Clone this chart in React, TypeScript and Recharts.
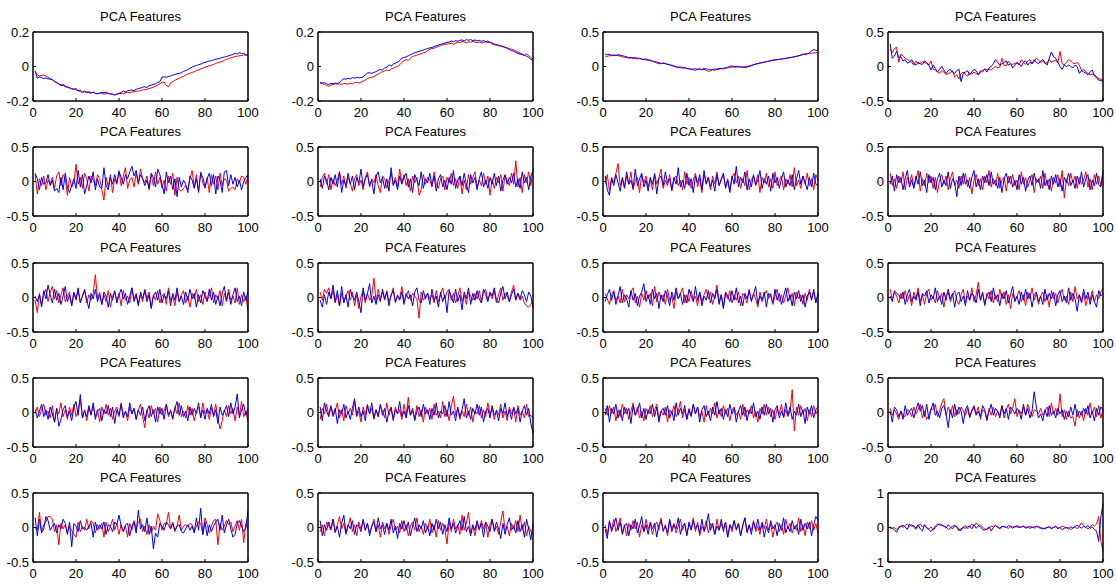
import { LineChart, Line, XAxis, YAxis } from 'recharts'

const TITLE = 'PCA Features'
const xTicks = [0, 20, 40, 60, 80, 100]
const ticksSmall = [-0.2, 0, 0.2]
const ticksHalf = [-0.5, 0, 0.5]
const ticksOne = [-1, 0, 1]

// panels 1-3 are in thousandths, the rest in hundredths
const f1Red = [
  -30, -48, -55, -52, -50, -55, -62, -70, -78, -88,
  -92, -100, -106, -104, -112, -118, -122, -128, -130, -136,
  -140, -146, -150, -142, -148, -146, -152, -150, -155, -158,
  -154, -156, -160, -158, -156, -160, -162, -165, -160, -158,
  -156, -158, -152, -150, -152, -148, -146, -144, -142, -140,
  -136, -134, -132, -128, -124, -120, -114, -108, -100, -92,
  -90, -110, -118, -96, -88, -80, -74, -68, -62, -56,
  -50, -44, -40, -34, -30, -24, -20, -14, -10, -4,
  0, 4, 8, 12, 18, 22, 26, 30, 36, 42,
  46, 50, 54, 58, 60, 62, 64, 66, 68, 66,
]
const f1Blue = [
  -25, -68, -60, -65, -70, -66, -72, -74, -76, -86,
  -95, -100, -112, -108, -118, -120, -125, -130, -132, -128,
  -140, -136, -150, -146, -152, -150, -155, -148, -156, -158,
  -155, -150, -152, -148, -156, -158, -160, -165, -160, -155,
  -150, -142, -148, -140, -138, -136, -140, -132, -128, -125,
  -120, -118, -122, -110, -108, -104, -100, -92, -88, -62,
  -60, -62, -58, -55, -50, -46, -42, -40, -36, -28,
  -24, -18, -10, -4, 2, 6, 10, 14, 20, 24,
  28, 32, 34, 38, 42, 45, 48, 52, 55, 58,
  62, 66, 70, 78, 72, 82, 74, 78, 64, 70,
]
const f2Red = [
  -100, -98, -104, -110, -115, -108, -104, -100, -102, -100,
  -104, -98, -100, -102, -96, -100, -94, -92, -96, -90,
  -84, -78, -70, -64, -62, -58, -50, -44, -36, -30,
  -26, -20, -24, -14, -10, -4, 0, 10, 24, 34,
  40, 36, 48, 58, 62, 66, 70, 74, 80, 82,
  92, 100, 104, 106, 112, 116, 122, 126, 128, 130,
  132, 134, 128, 136, 140, 138, 146, 142, 136, 144,
  140, 146, 142, 138, 142, 136, 140, 144, 138, 140,
  132, 126, 122, 120, 118, 114, 112, 108, 104, 100,
  96, 90, 84, 78, 72, 66, 74, 62, 52, 42,
]
const f2Blue = [
  -92, -96, -94, -100, -104, -98, -100, -96, -98, -94,
  -80, -70, -74, -68, -72, -64, -68, -62, -66, -64,
  -60, -48, -38, -36, -40, -34, -30, -22, -18, -20,
  -8, -4, 10, 2, 14, 20, 24, 34, 48, 52,
  56, 62, 68, 74, 80, 84, 88, 92, 96, 100,
  104, 108, 110, 116, 120, 124, 128, 132, 136, 140,
  142, 148, 144, 150, 146, 152, 154, 148, 156, 152,
  156, 150, 154, 148, 152, 146, 150, 144, 148, 140,
  136, 130, 128, 124, 120, 116, 112, 104, 98, 92,
  88, 82, 76, 72, 68, 64, 60, 52, 42, 32,
]
const f3Red = [
  150, 145, 160, 155, 162, 165, 158, 150, 140, 132,
  128, 122, 125, 118, 114, 110, 118, 104, 100, 96,
  90, 84, 74, 64, 50, 42, 40, 52, 44, 34,
  28, 20, 10, -10, -16, -4, -20, -24, -28, -32,
  -40, -34, -30, -44, -38, -48, -40, -56, -70, -62,
  -48, -56, -44, -40, -32, -36, -28, -20, -14, -10,
  -6, -14, -2, -12, -8, -2, 4, 10, 18, 28,
  36, 44, 52, 58, 64, 70, 76, 82, 90, 96,
  100, 104, 108, 112, 116, 122, 128, 134, 140, 148,
  156, 162, 170, 176, 182, 188, 192, 196, 202, 200,
]
const f3Blue = [
  182, 170, 178, 162, 168, 156, 172, 164, 158, 148,
  140, 130, 132, 124, 128, 120, 118, 108, 104, 110,
  96, 92, 80, 72, 66, 56, 44, 46, 40, 30,
  24, 10, 6, -4, -8, -16, -20, -14, -28, -32,
  -40, -48, -54, -40, -36, -44, -30, -34, -42, -50,
  -44, -38, -36, -30, -28, -26, -18, -10, 4, 8,
  0, 4, -4, -2, -10, -14, -8, 0, 10, 24,
  34, 40, 50, 54, 62, 70, 78, 84, 92, 96,
  100, 102, 110, 114, 118, 124, 130, 134, 142, 148,
  156, 166, 178, 180, 186, 196, 230, 246, 236, 226,
]
const f4Red = [
  25, 20, 26, 28, 6, 18, 15, 12, 10, 8,
  6, 2, 8, 4, 5, 7, 6, 4, 2, 8,
  -4, -5, -8, -10, -6, -8, -12, -10, -9, -6,
  -15, -12, -18, -10, -8, -12, -14, -9, -11, -8,
  -10, -12, -6, -8, -3, -5, -4, -5, -2, 0,
  -2, -1, 12, 2, 1, 8, 4, 3, 5, 5,
  2, 10, 6, 3, 8, 10, 4, 7, 12, 9,
  6, 8, 4, 6, 10, 6, 8, 9, 5, 22,
  4, 2, 6, 10, 8, 5, 4, 6, 2, -6,
  -4, -8, -10, -12, -11, -12, -14, -18, -18, -20,
]
const f4Blue = [
  33, 12, 15, 22, 13, 14, 8, 10, 5, 6,
  10, 4, 2, 6, 4, 3, 8, 6, 2, -5,
  2, -3, -8, -4, 0, -5, -10, -6, -4, -8,
  -10, -6, -4, -22, -10, -8, -6, -12, -8, -4,
  -6, -12, -8, -6, -4, -8, -2, 0, 4, 10,
  6, 2, 4, 6, 8, 2, 4, -2, 2, 6,
  4, 0, 6, 8, 2, 6, 4, 10, 6, 4,
  8, 10, 6, 2, 12, 21, 14, 12, 6, 0,
  -4, 2, 0, 2, 0, -2, 2, 0, -10, -6,
  -8, -10, -12, -8, -5, -14, -16, -20, -20, -22,
]
const f5Red = [
  10, -18, 4, -6, 8, -12, 2, -4, 6, -10,
  8, 14, -6, 10, 4, -20, 6, -8, -2, 25,
  -4, 6, -10, 12, 4, -14, 8, 2, -6, 10,
  4, -12, -27, 6, -8, 10, -16, 4, -4, 16,
  -6, 8, 20, -10, 2, 6, -8, 12, -4, 18,
  4, -2, 8, -12, 10, -6, 14, -4, 6, -10,
  2, -14, 8, -4, 12, -20, 6, -12, -14, -10,
  -6, -12, 4, 16, -8, 10, -16, 14, -2, -10,
  6, -16, 10, -4, 8, -12, 12, -6, 4, 2,
  -14, -10, -8, -12, 4, -2, 8, 6, -4, 8,
]
const f5Blue = [
  12, 4, -12, 6, -4, -2, 10, -6, 2, -14,
  -10, -16, 6, -12, 12, -8, -16, -6, 4, -10,
  16, -8, 10, -18, -6, 8, -2, 14, -12, 4,
  -8, -10, 20, -6, -12, 6, -4, 10, -2, 14,
  6, -4, 10, 4, 14, 22, 8, 16, -2, 10,
  4, -6, 2, -10, 12, 6, -8, 18, 10, -4,
  -18, 14, -2, 8, -12, 4, -22, 6, -8, 2,
  -4, -16, 8, 2, -10, 4, -14, 12, 6, -8,
  4, 12, -6, 10, -18, 8, 2, -16, 14, 16,
  -6, 10, -4, 6, -8, 2, -12, 0, 6, 10,
]
const f6Red = [
  -8, 6, 12, -4, 10, -12, 4, -6, 2, 14,
  -4, 8, -10, 6, -2, -14, 4, 10, -6, 2,
  -12, 6, 14, -8, 4, -2, 10, -6, -16, 8,
  4, -10, 2, 12, -4, 6, -8, 18, -2, 10,
  -6, 4, -14, 8, -2, 6, -20, -12, 10, -4,
  6, 2, -8, 14, -4, -10, 4, 8, -12, 6,
  -2, 12, -6, 4, -10, 8, -18, 2, -12, 10,
  -4, 6, 14, -8, 2, -6, 12, -4, 8, -20,
  4, -10, 6, -2, 10, -14, 8, 2, -6, 12,
  -4, 30, -8, 6, -16, 10, -2, 14, -6, 18,
]
const f6Blue = [
  4, -10, 8, 2, -12, 6, -4, 10, -8, 14,
  -16, 2, -6, 12, -4, 8, -12, 6, -2, 18,
  -8, 4, 10, -6, 2, -18, 8, 14, -2, 6,
  -10, 4, -14, 20, -6, 2, -12, 8, -4, 6,
  12, -8, 4, -16, 10, 2, -6, 14, -10, 4,
  -2, 12, -6, 8, -14, 4, 10, -8, 2, -12,
  6, -4, 16, -10, 2, 8, -6, 12, -4, -16,
  10, -2, 6, -12, 4, 14, -8, 2, -10, 6,
  -4, 12, -6, 8, -14, 2, 10, -4, 6, -2,
  12, -8, 4, -10, 14, -2, 6, -12, 8, 16,
]
const f7Red = [
  -4, 10, -14, 6, -2, 12, 26, -6, 4, -10,
  8, -4, 14, -12, 2, 6, -16, 10, -2, 8,
  -8, 4, -12, 12, -4, 6, 18, -10, 2, -6,
  10, -14, 4, 8, -6, 2, -12, 14, -4, 6,
  -10, 2, 12, -8, 4, -16, 10, -2, 6, -12,
  8, -4, 14, -6, 2, 10, -8, 4, -14, 6,
  12, -2, 8, -10, 4, -6, 16, -12, 2, 8,
  -4, 10, -16, 6, -2, 12, -8, 4, -10, 14,
  -6, 2, 8, -12, 4, -4, 10, -8, 20, -6,
  2, -10, 8, -4, 12, -6, 4, -12, 10, 2,
]
const f7Blue = [
  8, -12, -20, 4, -6, 10, -2, -14, 6, -8,
  14, -4, 2, -10, 18, -6, 4, 12, -8, 2,
  -14, 6, -4, 10, -18, 4, 8, -6, 14, -2,
  4, -12, 6, -4, 20, -8, 2, -10, 12, -6,
  4, -16, 8, -2, 10, -12, 16, -4, 6, -8,
  2, -14, 10, -6, 4, 12, -10, 2, -16, 8,
  -4, 22, -8, 6, -2, 14, -12, 4, -8, 10,
  -6, 2, 16, -10, 4, -4, 8, -14, 12, -2,
  6, -10, 4, 14, -8, 2, -6, 10, -12, 4,
  16, -4, 8, -2, -12, 6, -8, 12, -4, -6,
]
const f8Red = [
  12, -6, 4, -10, 8, -2, 14, -12, 6, -4,
  10, -8, 2, 16, -14, 4, -6, 12, -2, 8,
  -10, 6, -16, 2, 10, -4, 8, -12, 4, 14,
  -6, 2, -10, 8, -4, 12, -8, 6, -18, 2,
  10, -6, 4, -12, 8, -2, 16, -8, 4, -6,
  12, -10, 2, 6, -14, 8, -4, 10, -6, 2,
  -12, 14, -4, 6, -8, 2, 10, -16, 4, -2,
  8, -10, 12, -6, 4, -14, 6, -2, 10, -8,
  16, -24, 4, -6, 12, -2, 8, -10, 6, -4,
  2, 14, -8, 4, -12, 10, -4, 8, -6, 12,
]
const f8Blue = [
  -4, 8, -14, 10, -2, 6, -12, 4, 16, -8,
  2, -10, 8, -4, 14, -6, 2, -16, 10, -2,
  6, -12, 4, 12, -8, 2, -6, 14, -10, 4,
  -2, -22, 8, -6, 12, -4, 2, -10, 6, 16,
  -8, 4, -12, 8, -2, 10, -6, 14, -4, 2,
  -10, 6, -16, 4, 12, -2, 8, -8, 2, -12,
  10, -4, 6, -14, 2, 8, -6, 12, -2, 4,
  -10, 16, -6, 2, -12, 8, -4, 10, -8, 4,
  -14, 6, -2, 12, -6, 2, -10, 8, -4, 14,
  -8, 4, 10, -12, 2, -6, 12, -4, -8, 16,
]
const f9Red = [
  -4, -22, 6, -10, 4, 12, -6, 8, 16, -2,
  10, -8, 4, 14, -6, 2, 8, -12, 6, -4,
  10, -6, 2, 12, -8, 4, -4, 6, 33, -2,
  8, -10, 4, -6, 10, -14, 2, 8, -4, 6,
  -12, 10, -4, 2, -8, 14, -2, 6, -10, 4,
  -6, 12, -2, 8, -14, 4, -4, 10, -8, 2,
  6, -10, 14, -4, 2, -12, 8, -6, 4, 10,
  -8, 2, -14, 6, -2, 12, -6, 4, -10, 8,
  -4, 2, 14, -8, 4, -2, 10, -12, 6, -6,
  12, -4, 2, -8, 14, -10, 4, -6, 2, -20,
]
const f9Blue = [
  2, -6, 4, -14, 10, -2, 18, 4, -8, 12,
  -4, 6, -10, 2, 16, -6, 4, -12, 8, -2,
  14, -8, 2, 10, -4, -16, 6, -2, 12, -6,
  4, -10, 8, 2, -14, 6, -4, 10, -8, 4,
  12, -2, 6, -10, 2, 14, -6, 4, -12, 8,
  -2, 10, -6, 4, -16, 2, 8, -4, 12, -8,
  4, -2, 10, -12, 6, -4, 14, -6, 2, -10,
  8, -4, 12, -2, 6, -14, 4, -8, 10, 2,
  -6, 12, -4, 8, -10, 2, -12, 6, 16, -4,
  8, -10, 4, 14, -6, 2, -12, 8, -4, 10,
]
const f10Red = [
  8, -4, 12, 6, 14, -2, 10, -8, 4, -12,
  6, -6, 2, 10, -4, 8, -12, 4, -16, 2,
  10, -8, 6, -4, 2, 28, -6, 12, -2, 8,
  -4, 10, -6, 2, 14, -8, 4, -2, 16, -6,
  2, 10, -4, 6, 2, -2, -30, 8, -4, 2,
  6, -2, 4, -8, 10, -6, 4, 14, -2, 8,
  12, -4, 6, -8, 2, 14, -6, 4, -10, 8,
  2, -4, 6, -2, 10, -6, 8, 12, -4, 6,
  -2, 10, -8, 4, 14, -4, 6, 2, -6, 8,
  18, -2, 6, -4, 2, -8, -12, -14, -10, -4,
]
const f10Blue = [
  -4, -14, 4, -10, 8, -2, 18, -6, 10, -12,
  16, -8, 4, -14, 12, 2, -4, 8, -6, -22,
  14, -4, 6, 20, -8, 2, -10, 4, -6, 12,
  -2, 8, -12, 4, 10, -6, 2, -4, 8, -10,
  6, -2, 4, -12, 8, 14, -4, -8, 10, -2,
  6, -10, 12, -4, 2, -14, 8, -6, 4, -22,
  10, 2, -8, 12, -6, 4, -18, 8, -2, 14,
  -10, 6, -4, 10, -2, -8, 12, 4, -6, 8,
  2, 14, -4, -8, 6, 16, -2, 8, -6, 4,
  12, -4, 6, -2, 10, 4, -6, 8, 2, -14,
]
const f11Red = [
  6, -2, -10, 4, 10, -4, 2, -8, 12, -6,
  4, -2, 8, 14, -8, 2, -14, 6, -4, 10,
  -2, 6, -12, 16, -6, 8, -2, 4, -10, 12,
  -4, 2, -16, 8, -2, 6, 14, -8, 4, -6,
  10, -4, 2, -12, 8, -6, 4, 12, -2, 8,
  -10, 2, 18, -6, 4, -14, 6, -2, 10, -8,
  4, -4, 8, -12, 6, 2, -8, 12, -4, 6,
  -2, -14, 8, -6, 4, 10, -2, 6, -10, 2,
  12, -6, 4, -8, 2, 14, -4, 6, -12, 8,
  -2, 4, -10, 6, -4, 12, -2, 8, -6, 4,
]
const f11Blue = [
  -6, 4, 12, -4, 8, -10, 2, 16, -8, 4,
  -2, -14, 10, -4, 6, -12, 2, 8, 20, -6,
  4, -10, 12, -2, 6, -16, 4, -6, 10, 2,
  -12, 8, -4, 14, -2, 6, -10, 4, -8, 12,
  2, -6, 16, -4, 8, -12, 2, -4, 10, -8,
  6, -2, 12, -10, 4, -16, 8, 2, -6, 10,
  -4, 14, -8, 2, -12, 6, -2, 10, -6, 4,
  16, -10, 2, -4, 8, -14, 6, 2, -8, 12,
  -4, 6, -10, 2, 14, -6, 4, -12, 8, -2,
  10, -6, 4, -14, 2, 8, -4, 12, -8, 6,
]
const f12Red = [
  12, -4, 8, 2, -8, 6, -2, 10, -6, 4,
  -12, 8, -2, 14, -6, 4, -10, 6, 12, -4,
  2, -8, 10, -2, 6, -14, 4, 8, -6, 2,
  10, -4, -10, 4, 12, -8, 2, -4, 14, -6,
  4, 22, -4, 8, -12, 6, -2, 10, -8, 4,
  -6, 12, -2, 8, -10, 4, -16, 6, -4, 2,
  10, -6, 4, -12, 8, -2, 14, -4, 6, -10,
  2, 8, -6, 4, -14, 10, -2, 6, -8, 4,
  12, -4, 2, -10, 8, -6, 16, -2, 4, -8,
  6, -12, 2, -4, 10, -6, 4, -2, 8, 14,
]
const f12Blue = [
  2, -6, 10, 6, 4, -2, 8, -10, 4, 12,
  -6, 2, -4, 8, -12, 6, 2, 10, -8, 4,
  -2, 14, -6, 2, -10, 8, -4, 12, -2, 6,
  -14, 4, 8, -6, 2, -12, 10, -4, 6, 2,
  -8, 12, -4, 6, -10, 2, 8, -6, 14, -2,
  4, -12, 6, -2, 10, -8, 4, 16, -6, 2,
  -10, 8, -4, 12, -2, 6, -14, 4, 8, -6,
  2, -10, 12, -4, 6, -2, 8, -12, 4, 10,
  -6, 2, -8, 14, -4, 6, -2, -20, 4, -6,
  12, -2, 8, -10, 4, -6, -14, 10, 2, 6,
]
const f13Red = [
  -2, 8, -6, 4, 12, -4, 2, -8, 10, -14,
  6, -2, 14, -6, 4, -10, 8, -4, 12, -6,
  2, 20, -8, 4, -12, 6, -2, 10, -6, 4,
  -14, 8, -2, 12, -4, 6, -10, 2, 8, -6,
  14, -4, 2, -12, 8, -2, 6, -10, 4, 12,
  -6, -22, 4, -8, 10, -2, 6, -14, 8, -4,
  2, 12, -6, 4, -10, 8, -2, 14, -6, 2,
  -8, 10, -4, 6, -12, 2, 8, -6, 14, -2,
  4, -10, 6, -4, 12, -8, -24, -12, 4, -6,
  10, -2, 6, -12, 8, -4, 16, -6, 2, -14,
]
const f13Blue = [
  4, -8, 2, 12, -6, 4, -10, 8, -2, -14,
  6, -20, -10, 4, 10, -6, 2, -12, 8, 16,
  -4, 26, -8, 2, -6, 10, -4, 14, -10, 2,
  6, -12, 4, -2, 10, -6, 8, -16, 4, -4,
  12, -8, 2, -6, 14, -2, 6, -10, 4, -4,
  8, -12, 2, 10, -6, 4, -14, 8, -2, 6,
  -10, 12, -4, 2, -8, 6, 16, -4, 10, -6,
  2, -12, 8, -4, 6, -2, 14, -8, 4, -10,
  6, -2, 12, -6, 4, -16, 8, -4, 2, 10,
  -6, 14, -2, 8, 27, -8, 4, 12, -4, 6,
]
const f14Red = [
  -10, 6, -2, 12, -4, 8, -6, 2, 14, -8,
  4, -12, 10, -2, 6, -4, 16, -6, 2, -14,
  8, -4, 12, -2, 6, -10, 4, -6, 10, 2,
  -8, 14, -4, 6, -12, 8, -2, 4, -10, 12,
  -6, 22, -4, 2, -8, 10, -6, 4, -14, 8,
  -2, 6, -10, 12, -4, 2, -8, 16, -6, 4,
  -12, 8, 24, -4, 6, -10, 2, -6, 12, -4,
  8, -14, 2, -2, 10, -8, 4, -6, 14, -2,
  6, -10, 4, -4, 12, -8, 2, -12, 8, -2,
  6, -14, 10, -4, 2, -8, 12, -6, -4, -8,
]
const f14Blue = [
  8, -12, 14, 2, -6, 10, -4, 6, -16, 4,
  -2, 12, -8, 2, -10, 6, 20, -4, 8, -6,
  2, -12, 10, -2, 14, -8, 4, -6, 12, -4,
  6, -14, 2, 8, -10, 4, -2, 16, -6, 2,
  -8, 10, -4, 6, -12, 2, 8, -6, 12, -2,
  4, -10, 6, -4, 14, -8, 2, -2, 10, -6,
  16, -4, 2, -12, 8, -6, 4, 20, -8, 2,
  -10, 6, -2, 12, -4, 8, -14, 2, 6, -8,
  10, -4, 2, -12, 6, -2, 14, -6, 4, -10,
  8, -2, 6, -14, 2, 10, -4, 6, -16, -30,
]
const f15Red = [
  6, -4, 10, -2, 8, -12, 4, -6, 12, -2,
  6, -10, 2, 14, -4, 8, -8, 2, -12, 6,
  -2, 10, -6, 4, 12, -8, 2, -4, 8, -14,
  4, -2, 10, -6, 2, 16, -8, 4, -10, 6,
  -4, 12, -2, 8, -6, 2, -14, 10, -4, 6,
  -2, 14, -8, 4, -6, 10, -2, 6, -12, 4,
  8, -4, 2, -10, 12, -6, 4, -2, 10, -8,
  2, -14, 6, -2, 12, -4, 8, -6, 4, -10,
  6, -2, 12, -8, 4, -6, 2, 33, -27, 8,
  -4, 10, -2, 6, -12, 4, -6, 10, -2, 4,
]
const f15Blue = [
  -4, 10, -14, 6, -2, 12, -8, 4, -12, 8,
  -2, 6, -16, 10, -4, 2, 14, -8, 6, -10,
  4, -2, 12, -6, 8, -14, 2, 6, -4, 10,
  -8, 2, -12, 14, -4, 6, -2, 10, -10, 4,
  -6, 12, -2, 8, -14, 4, 10, -6, 2, -12,
  8, -4, 16, -2, 6, -10, 4, -6, 12, -2,
  6, -14, 2, 10, -4, 8, -12, 4, -2, 14,
  -6, 2, -10, 8, -4, 12, -2, 6, -14, 4,
  10, -8, 2, -6, 14, -4, 8, -10, 2, -4,
  12, -6, 4, -16, 8, -2, 10, -8, 4, 8,
]
const f16Red = [
  6, -4, 4, -2, -10, 2, -4, -6, 4, 2,
  -6, 8, -2, 4, 12, -8, 2, -10, -4, 6,
  4, 12, -6, 2, 14, 20, -4, 8, -2, 10,
  -6, 4, -2, 8, 2, -4, 6, -8, 4, 10,
  -2, 8, -10, 4, 2, -12, 6, -4, 8, -6,
  2, -4, 10, -8, 4, 12, -2, 6, 20, -6,
  4, -2, 8, -4, 12, 2, -6, 4, 2, -2,
  6, -4, 2, 8, -6, 14, -2, 6, -4, 27,
  -6, 4, -10, 2, -8, -6, -20, 4, -8, 2,
  -12, 6, -4, 14, -2, 8, -6, 10, -8, 4,
]
const f16Blue = [
  2, -14, 8, 4, -6, 2, -10, 10, -4, 2,
  6, -8, 4, 14, 2, 10, -6, 12, -10, 4,
  14, -4, 2, -8, 6, 10, -2, -22, 4, -8,
  12, -4, 8, 2, -16, 4, 10, -6, 2, 8,
  -4, 2, -6, 10, 4, -10, 2, 12, -4, 6,
  2, -8, 10, -2, 6, -10, 8, 4, -2, 6,
  2, -10, 12, -4, 6, -8, 2, 30, 8, -8,
  -2, -12, 4, -6, 10, -4, 2, -8, 6, -2,
  4, -10, 2, -6, 8, -4, 12, -6, 2, -4,
  6, -2, 10, -8, 2, -12, 6, -4, 8, 4,
]
const f17Red = [
  0, -4, 22, -6, 4, 8, 16, 16, 12, -6,
  4, -25, 6, -2, 4, -8, 2, -4, -10, -14,
  8, -6, 2, -4, 12, -2, 10, 6, -8, 4,
  -2, 6, -14, 8, -6, 2, 12, -4, 6, -10,
  4, -6, 2, -14, 6, -4, 10, -2, 8, 12,
  -6, 2, -10, 4, -8, 2, -4, 20, 10, -4,
  6, 4, 22, -2, 8, -6, 2, 18, -4, 2,
  4, 2, 6, 4, -6, 2, 8, 6, -10, 14,
  4, -8, 2, 10, 12, -25, 6, -4, 2, 10,
  4, 8, -6, 2, 10, -4, 12, -22, 6, -4,
]
const f17Blue = [
  14, -12, 12, -8, -2, 16, 10, -4, 2, 6,
  -8, 4, -2, 12, 6, -10, 8, -28, 6, 2,
  -6, 10, -2, 0, -4, 2, 6, -14, 8, -4,
  4, -2, 8, -10, 4, 2, -6, 8, 4, 18,
  2, -6, 4, 6, -12, 2, 8, -8, 25, -2,
  4, -6, 14, -10, 2, -31, -8, -14, 6, 2,
  -4, 8, 4, -2, 6, -4, 2, 4, -6, -8,
  -2, 4, -4, 2, -8, 14, -4, 28, -10, 8,
  -12, 4, -6, 2, 8, 12, -4, 18, -8, 4,
  12, -2, -14, -10, 6, 10, 2, -6, 0, 24,
]
const f18Red = [
  -6, 4, -12, 8, 2, -4, 12, -8, 4, 16,
  -2, 6, -10, 2, 14, -6, 4, -12, 8, -2,
  10, -4, 6, -8, 2, 12, -6, 4, -14, 8,
  -2, 6, -10, 4, 12, -4, 2, -8, 10, -6,
  4, -12, 2, 8, -4, 14, -6, 2, -10, 6,
  -2, 12, -8, 4, -14, 10, -4, 6, -2, -24,
  8, -6, 12, -2, 4, -10, 18, -4, 6, 22,
  -8, 2, -12, 6, -4, 10, -2, 8, -14, 4,
  12, -6, 2, -10, 8, 24, -4, 2, -12, 6,
  -2, 10, -6, 18, -4, 8, -12, 2, -6, -10,
]
const f18Blue = [
  10, -12, 4, -4, 8, -2, 12, -6, 2, -14,
  6, 18, -8, 4, -2, 10, -10, 4, 2, -6,
  12, -4, 6, -12, 2, 8, -6, 14, -2, 4,
  -10, 6, -4, 12, -8, 2, -16, 6, -2, 10,
  -4, 8, -12, 2, 14, -6, 4, -2, 10, -8,
  2, -12, 6, -4, 12, -2, 8, -10, 4, -6,
  14, -2, 6, -8, 2, 10, -4, 16, -6, 2,
  -12, 4, -4, 10, -2, 6, -14, 8, 2, -6,
  12, -4, 8, -2, -16, 6, -10, 4, 14, -4,
  2, -8, 10, -6, 4, -14, 12, -2, -18, 6,
]
const f19Red = [
  4, -10, 8, -2, 12, -6, 2, 14, -8, 4,
  -12, 6, -4, 10, -2, 8, -14, 4, -6, 12,
  -2, 6, -10, 2, 8, -4, 14, -6, 4, -12,
  10, -2, 6, -8, 2, 12, -4, 6, -10, 4,
  -2, 14, -6, 8, -12, 2, -4, 10, -8, 6,
  2, -10, 12, -4, 6, -2, 8, -14, 4, -6,
  10, -2, 6, -12, 4, 14, -8, 2, -4, 10,
  -6, 2, -10, 8, -2, 12, -4, 6, -14, 2,
  8, -6, 4, -10, 12, -2, 6, -8, 2, -4,
  14, -6, 4, -12, 8, -2, 10, -4, 6, -8,
]
const f19Blue = [
  -2, -16, 10, -6, 4, 14, -4, 8, -10, 2,
  6, -12, 4, -2, 12, -8, 2, 16, -6, 4,
  -10, 8, -2, 6, -14, 4, 10, -4, 2, -8,
  12, -6, 4, -2, 14, -10, 2, 6, -12, 8,
  -4, 10, -2, 4, -8, 12, -6, 2, 20, -4,
  6, -10, 2, -4, 12, -6, 8, -14, 4, -2,
  10, -4, 6, -12, 2, 14, -6, 4, -10, 8,
  -2, 12, -4, 6, -14, 2, -8, 10, -2, 4,
  -12, 6, -4, 14, -8, 2, -6, 10, -2, 4,
  -10, 12, -4, 6, -2, 8, -12, 4, 16, 10,
]
const f20Red = [
  -4, -2, 0, -6, 2, 4, 0, 6, 10, 4,
  8, 0, -6, 4, 10, 2, 6, 0, -4, 2,
  -8, 0, 6, 10, 8, 4, 2, -6, -2, 4,
  6, 0, -10, -8, 2, 6, -4, 2, 10, 4,
  14, 6, 8, 0, -4, -6, -2, 4, 2, 6,
  0, -4, 2, 4, 0, -2, 4, 2, 0, 6,
  2, 0, 4, -2, 0, 4, 2, -2, 2, 4,
  0, -2, -4, 0, 2, -4, 0, 2, -4, 0,
  4, 2, -2, 0, -6, -2, 2, -4, 4, 14,
  6, 0, -4, 2, 8, 4, 10, 32, -40, -70,
]
const f20Blue = [
  2, -2, -6, -14, -2, 4, 6, 2, -6, 10,
  4, 6, -2, 8, -4, -10, 8, -2, -6, -12,
  -4, 4, 10, 8, 6, 4, -2, 8, 2, -4,
  6, 2, -6, -4, 0, -2, 2, 4, -4, 8,
  -2, 4, 2, -6, -8, -4, 2, -10, 0, 6,
  2, -2, 4, 2, 0, 6, 2, -2, 4, 2,
  0, 2, 4, 0, 2, -2, 0, 2, 4, 0,
  -2, -4, -2, 0, 2, -2, 0, 4, -2, 0,
  -6, -2, 0, -4, 2, -2, 4, 6, 2, -2,
  4, 0, 6, -2, 2, -6, -10, -40, 30, 70,
]

const panels = [
  { red: f1Red, blue: f1Blue, unit: 1000, ticks: ticksSmall },
  { red: f2Red, blue: f2Blue, unit: 1000, ticks: ticksSmall },
  { red: f3Red, blue: f3Blue, unit: 1000, ticks: ticksHalf },
  { red: f4Red, blue: f4Blue, unit: 100, ticks: ticksHalf },
  { red: f5Red, blue: f5Blue, unit: 100, ticks: ticksHalf },
  { red: f6Red, blue: f6Blue, unit: 100, ticks: ticksHalf },
  { red: f7Red, blue: f7Blue, unit: 100, ticks: ticksHalf },
  { red: f8Red, blue: f8Blue, unit: 100, ticks: ticksHalf },
  { red: f9Red, blue: f9Blue, unit: 100, ticks: ticksHalf },
  { red: f10Red, blue: f10Blue, unit: 100, ticks: ticksHalf },
  { red: f11Red, blue: f11Blue, unit: 100, ticks: ticksHalf },
  { red: f12Red, blue: f12Blue, unit: 100, ticks: ticksHalf },
  { red: f13Red, blue: f13Blue, unit: 100, ticks: ticksHalf },
  { red: f14Red, blue: f14Blue, unit: 100, ticks: ticksHalf },
  { red: f15Red, blue: f15Blue, unit: 100, ticks: ticksHalf },
  { red: f16Red, blue: f16Blue, unit: 100, ticks: ticksHalf },
  { red: f17Red, blue: f17Blue, unit: 100, ticks: ticksHalf },
  { red: f18Red, blue: f18Blue, unit: 100, ticks: ticksHalf },
  { red: f19Red, blue: f19Blue, unit: 100, ticks: ticksHalf },
  { red: f20Red, blue: f20Blue, unit: 100, ticks: ticksOne },
]

const COL_LEFT = [33, 318, 603, 888]
const ROW_TOP = [32, 147, 263, 378, 493]
const PLOT_W = 215
const PLOT_H = 69
const LEFT_W = 40
const TOP_PAD = 12
const BOTTOM_H = 24
const RIGHT_PAD = 14

const FONT = '"Liberation Sans", Arial, Helvetica, sans-serif'
const axisLine = { stroke: '#000', strokeWidth: 1.5 }
const tickStyle = { fontSize: 13, fill: '#000', fontFamily: FONT }

function Panel({ idx }: { idx: number }) {
  const p = panels[idx]
  const col = idx % 4
  const row = Math.floor(idx / 4)
  const left = COL_LEFT[col]
  const top = ROW_TOP[row]
  const data = p.red.map((v, i) => ({ x: i + 1, red: v / p.unit, blue: p.blue[i] / p.unit }))
  const lo = p.ticks[0]
  const hi = p.ticks[p.ticks.length - 1]

  return (
    <>
      <div
        style={{
          position: 'absolute',
          left,
          top: top - 23,
          width: PLOT_W,
          textAlign: 'center',
          fontSize: 13,
          lineHeight: '16px',
          fontFamily: FONT,
          color: '#000'
        }}
      >
        {TITLE}
      </div>
      <div style={{ position: 'absolute', left: left - LEFT_W, top: top - TOP_PAD }}>
        <LineChart
          width={LEFT_W + PLOT_W + 1 + RIGHT_PAD}
          height={TOP_PAD + PLOT_H + BOTTOM_H}
          data={data}
          margin={{ top: TOP_PAD - 1, right: RIGHT_PAD, bottom: 0, left: 0 }}
        >
          <XAxis
            dataKey="x"
            type="number"
            domain={[0, 100]}
            ticks={xTicks}
            interval={0}
            height={BOTTOM_H}
            tickSize={-3}
            tickMargin={10}
            axisLine={axisLine}
            tickLine={{ stroke: '#000' }}
            tick={tickStyle}
          />
          <XAxis
            xAxisId="top"
            orientation="top"
            dataKey="x"
            type="number"
            domain={[0, 100]}
            ticks={xTicks}
            interval={0}
            height={1}
            tickSize={-3}
            axisLine={axisLine}
            tickLine={{ stroke: '#000' }}
            tick={false}
          />
          <YAxis
            type="number"
            domain={[lo, hi]}
            ticks={p.ticks}
            interval={0}
            width={LEFT_W}
            tickSize={-3}
            tickMargin={7}
            axisLine={axisLine}
            tickLine={{ stroke: '#000' }}
            tick={tickStyle}
          />
          <YAxis
            yAxisId="right"
            orientation="right"
            type="number"
            domain={[lo, hi]}
            ticks={p.ticks}
            interval={0}
            width={1}
            tickSize={-3}
            axisLine={axisLine}
            tickLine={{ stroke: '#000' }}
            tick={false}
          />
          <Line type="linear" dataKey="red" stroke="#ff0000" strokeWidth={1} dot={false} isAnimationActive={false} />
          <Line type="linear" dataKey="blue" stroke="#0000ff" strokeWidth={1} dot={false} isAnimationActive={false} />
        </LineChart>
      </div>
    </>
  )
}

export default function App() {
  return (
    <div style={{ position: 'absolute', left: 0, top: 0, width: 1116, height: 584, background: '#fff', overflow: 'hidden' }}>
      {panels.map((_, i) => (
        <Panel key={i} idx={i} />
      ))}
    </div>
  )
}
